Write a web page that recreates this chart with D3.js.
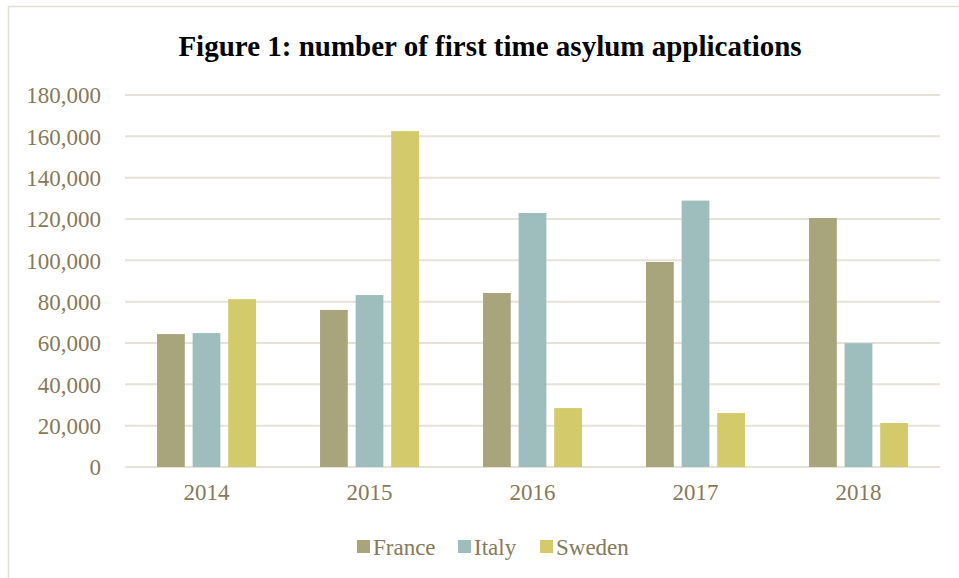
<!DOCTYPE html>
<html><head><meta charset="utf-8">
<script src="https://cdn.jsdelivr.net/npm/d3@7"></script>
<style>body{margin:0;background:#fff;}svg{display:block;}</style>
</head><body>
<svg id="c" width="959" height="578"></svg>
<script>
const years = ["2014","2015","2016","2017","2018"];
const seriesNames = ["France","Italy","Sweden"];
const france = [64300, 76000, 84200, 99200, 120500];
const italy  = [64800, 83200, 122900, 128900, 59900];
const sweden = [81200, 162500, 28500, 26100, 21300];
const yTicks = [0,20000,40000,60000,80000,100000,120000,140000,160000,180000];
const colors = ["#A8A57C","#9EBDBD","#D2CA6B"];
const title = "Figure 1: number of first time asylum applications";

const values = [france, italy, sweden];
const svg = d3.select("#c");
const font = "'Liberation Serif','Times New Roman',serif";
const textCol = "#857A5A";

// outer border
svg.append("path").attr("d","M8.5,578 V6.5 H959").attr("fill","none").attr("stroke","#E3DFD3").attr("stroke-width",1.5);

const m = {left:125, right:940, top:95, bottom:467};
const x = d3.scaleBand().domain(years).range([m.left, m.right]).paddingInner(0).paddingOuter(0);
const x1 = d3.scaleBand().domain(seriesNames).range([0, x.bandwidth()]).paddingInner(0.22).paddingOuter(0.9);
const y = d3.scaleLinear().domain([0,180000]).range([m.bottom, m.top]);

// gridlines
svg.append("g").selectAll("line").data(yTicks).join("line")
  .attr("x1", m.left).attr("x2", m.right)
  .attr("y1", d=>y(d)).attr("y2", d=>y(d))
  .attr("stroke","#E6E2D8").attr("stroke-width",2);

// y axis labels
const yAxis = svg.append("g").attr("transform",`translate(${m.left-21},0)`)
  .call(d3.axisLeft(y).tickValues(yTicks).tickSize(0).tickFormat(d3.format(",")));
yAxis.select(".domain").remove();
yAxis.selectAll("text").attr("font-family",font).attr("font-size",23).attr("fill",textCol).attr("dx",0).attr("dy","0.34em");

// x axis labels
const xAxis = svg.append("g").attr("transform",`translate(0,${m.bottom+14})`)
  .call(d3.axisBottom(x).tickSize(0));
xAxis.select(".domain").remove();
xAxis.selectAll("text").attr("font-family",font).attr("font-size",23).attr("fill",textCol);

// bars
const g = svg.append("g");
years.forEach((yr,i)=>{
  seriesNames.forEach((s,j)=>{
    g.append("rect")
      .attr("x", x(yr)+x1(s)).attr("width", x1.bandwidth())
      .attr("y", y(values[j][i])).attr("height", y(0)-y(values[j][i]))
      .attr("fill", colors[j]);
  });
});

// title
svg.append("text").attr("x", 490).attr("y", 56).attr("text-anchor","middle")
  .attr("font-family",font).attr("font-weight","bold").attr("font-size",29).attr("fill","#000")
  .text(title);

// legend
const legX = [357, 458, 540];
const leg = svg.append("g");
seriesNames.forEach((s,j)=>{
  leg.append("rect").attr("x",legX[j]).attr("y",540).attr("width",13).attr("height",13).attr("fill",colors[j]);
  leg.append("text").attr("x",legX[j]+16).attr("y",555).attr("font-family",font).attr("font-size",23).attr("fill",textCol).text(s);
});
</script>
</body></html>
